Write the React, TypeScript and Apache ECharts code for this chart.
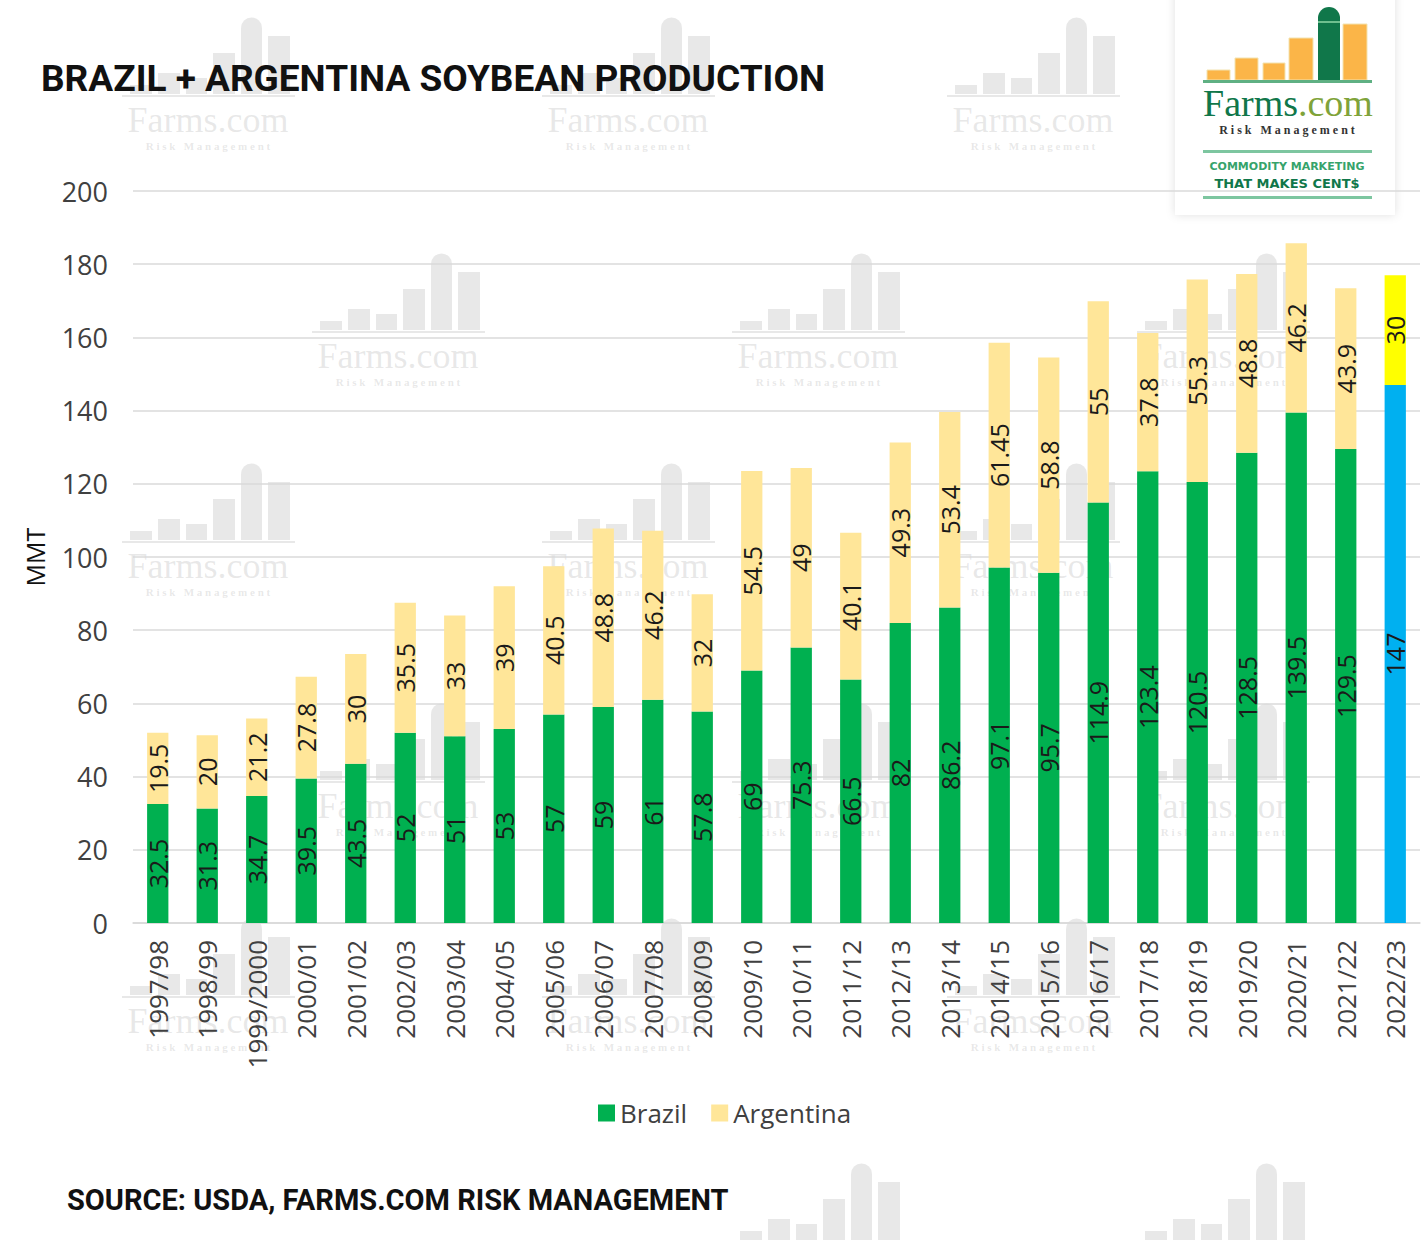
import React, { useEffect, useRef } from "react";
import * as echarts from "echarts";

const seasons = [
  "1997/98", "1998/99", "1999/2000", "2000/01", "2001/02", "2002/03", "2003/04",
  "2004/05", "2005/06", "2006/07", "2007/08", "2008/09", "2009/10", "2010/11",
  "2011/12", "2012/13", "2013/14", "2014/15", "2015/16", "2016/17", "2017/18",
  "2018/19", "2019/20", "2020/21", "2021/22", "2022/23",
];
const brazil = [
  32.5, 31.3, 34.7, 39.5, 43.5, 52, 51, 53, 57, 59, 61, 57.8, 69, 75.3, 66.5, 82,
  86.2, 97.1, 95.7, 114.9, 123.4, 120.5, 128.5, 139.5, 129.5, 147,
];
const argentina = [
  19.5, 20, 21.2, 27.8, 30, 35.5, 33, 39, 40.5, 48.8, 46.2, 32, 54.5, 49, 40.1,
  49.3, 53.4, 61.45, 58.8, 55, 37.8, 55.3, 48.8, 46.2, 43.9, 30,
];
// last season is a forecast, drawn in other colours
const forecastIndex = 25;

const FONT = "'Open Sans', 'Noto Sans', sans-serif";
const WM = "rgba(150,150,150,0.22)";

// faint Farms.com watermark tile
const watermark = (x: number, y: number, withText: boolean) => {
  const children: any[] = [
    { type: "rect", shape: { x: 8, y: 71, width: 22, height: 9 }, style: { fill: WM } },
    { type: "rect", shape: { x: 36, y: 59, width: 22, height: 21 }, style: { fill: WM } },
    { type: "rect", shape: { x: 64, y: 64, width: 21, height: 16 }, style: { fill: WM } },
    { type: "rect", shape: { x: 91, y: 39, width: 22, height: 41 }, style: { fill: WM } },
    { type: "rect", shape: { x: 119, y: 14, width: 21, height: 66 }, style: { fill: WM } },
    {
      type: "sector",
      shape: { cx: 129.5, cy: 14, r0: 0, r: 10.5, startAngle: Math.PI, endAngle: Math.PI * 2 },
      style: { fill: WM },
    },
    { type: "rect", shape: { x: 146, y: 22, width: 22, height: 58 }, style: { fill: WM } },
  ];
  if (withText) {
    children.push(
      { type: "rect", shape: { x: 0, y: 81, width: 173, height: 2 }, style: { fill: WM } },
      {
        type: "text",
        x: 86,
        y: 106,
        style: {
          text: "Farms.com",
          fill: WM,
          font: "36px 'Liberation Serif', serif",
          align: "center",
          verticalAlign: "middle",
        },
      },
      {
        type: "text",
        x: 86,
        y: 132,
        style: {
          text: "R i s k   M a n a g e m e n t",
          fill: WM,
          font: "bold 11px 'Liberation Serif', serif",
          align: "center",
          verticalAlign: "middle",
        },
      }
    );
  }
  return { type: "group", x, y, z: 100, silent: true, children };
};

const wmSpots = [
  [122, 14, 1], [542, 14, 1], [947, 14, 1],
  [312, 250, 1], [732, 250, 1], [1137, 250, 1],
  [122, 460, 1], [542, 460, 1], [947, 460, 1],
  [312, 700, 1], [732, 700, 1], [1137, 700, 1],
  [122, 915, 1], [542, 915, 1], [947, 915, 1],
  [732, 1160, 0], [1137, 1160, 0],
];

const ORANGE = "#FBB548";
const LOGO_GREEN = "#10774A";

const logo = {
  type: "group",
  x: 1175,
  y: 0,
  z: 110,
  silent: true,
  children: [
    {
      type: "rect",
      shape: { x: 0, y: -10, width: 220, height: 225 },
      style: { fill: "#fff", shadowBlur: 10, shadowColor: "rgba(0,0,0,0.12)" },
    },
    { type: "rect", shape: { x: 32, y: 70, width: 23, height: 10 }, style: { fill: ORANGE, stroke: "#F3E3B0", lineWidth: 1 } },
    { type: "rect", shape: { x: 60, y: 58, width: 23, height: 22 }, style: { fill: ORANGE, stroke: "#F3E3B0", lineWidth: 1 } },
    { type: "rect", shape: { x: 88, y: 63, width: 22, height: 17 }, style: { fill: ORANGE, stroke: "#F3E3B0", lineWidth: 1 } },
    { type: "rect", shape: { x: 114, y: 38, width: 24, height: 42 }, style: { fill: ORANGE, stroke: "#F3E3B0", lineWidth: 1 } },
    { type: "rect", shape: { x: 143, y: 17, width: 22, height: 63 }, style: { fill: LOGO_GREEN } },
    {
      type: "sector",
      shape: { cx: 154, cy: 18, r0: 0, r: 11, startAngle: Math.PI, endAngle: Math.PI * 2 },
      style: { fill: LOGO_GREEN },
    },
    { type: "rect", shape: { x: 143, y: 21, width: 22, height: 2 }, style: { fill: "#6FBF8F" } },
    { type: "rect", shape: { x: 168, y: 24, width: 24, height: 56 }, style: { fill: ORANGE, stroke: "#F3E3B0", lineWidth: 1 } },
    { type: "rect", shape: { x: 28, y: 80, width: 169, height: 3 }, style: { fill: "#5FB083" } },
    {
      type: "text",
      x: 28,
      y: 103,
      style: {
        text: "Farms{c|.com}",
        fill: LOGO_GREEN,
        font: "38px 'Liberation Serif', serif",
        verticalAlign: "middle",
        rich: { c: { fill: "#7FA33A", font: "38px 'Liberation Serif', serif" } },
      },
    },
    {
      type: "text",
      x: 112,
      y: 130,
      style: {
        text: "R i s k   M a n a g e m e n t",
        fill: "#333",
        font: "bold 12px 'Liberation Serif', serif",
        align: "center",
        verticalAlign: "middle",
      },
    },
    { type: "rect", shape: { x: 28, y: 150, width: 169, height: 3 }, style: { fill: "#7DC6A0" } },
    {
      type: "text",
      x: 112,
      y: 166,
      style: {
        text: "COMMODITY MARKETING",
        fill: "#36A36B",
        font: "bold 11px 'DejaVu Sans', sans-serif",
        align: "center",
        verticalAlign: "middle",
      },
    },
    {
      type: "text",
      x: 112,
      y: 183,
      style: {
        text: "THAT MAKES CENT$",
        fill: LOGO_GREEN,
        font: "bold 13px 'DejaVu Sans', sans-serif",
        align: "center",
        verticalAlign: "middle",
      },
    },
    { type: "rect", shape: { x: 28, y: 196, width: 169, height: 3 }, style: { fill: "#7DC6A0" } },
  ],
};

const App = () => {
  const chartRef = useRef(null);

  useEffect(() => {
    document.body.style.margin = "0";
    let myChart: echarts.ECharts = null;
    if (chartRef.current !== null) {
      myChart = echarts.init(chartRef.current, null, { renderer: "svg" });
    }

    const label = {
      show: true,
      position: "inside",
      rotate: 90,
      fontSize: 25,
      color: "#1a1a1a",
      fontFamily: FONT,
    };

    const option = {
      animation: false,
      backgroundColor: "#fff",
      title: [
        {
          text: "BRAZIL + ARGENTINA SOYBEAN PRODUCTION",
          left: 36,
          top: 55,
          textStyle: { fontFamily: "Roboto, sans-serif", fontWeight: "bold", fontSize: 37, color: "#111" },
        },
        {
          text: "SOURCE: USDA, FARMS.COM RISK MANAGEMENT",
          left: 62,
          top: 1180,
          textStyle: { fontFamily: "Roboto, sans-serif", fontWeight: "bold", fontSize: 29, color: "#111" },
        },
      ],
      legend: {
        data: ["Brazil", "Argentina"],
        left: 593,
        top: 1095,
        itemWidth: 17,
        itemHeight: 17,
        itemGap: 24,
        icon: "rect",
        textStyle: { fontFamily: FONT, fontSize: 26, color: "#404040" },
      },
      grid: { left: 133, right: 8, top: 191, bottom: 320 },
      xAxis: {
        type: "category",
        data: seasons,
        axisLine: { lineStyle: { color: "#D9D9D9", width: 1.5 } },
        axisTick: { show: false },
        axisLabel: {
          rotate: 90,
          interval: 0,
          margin: 17,
          fontSize: 26,
          color: "#404040",
          fontFamily: FONT,
        },
      },
      yAxis: {
        type: "value",
        min: 0,
        max: 200,
        interval: 20,
        name: "MMT",
        nameLocation: "middle",
        nameGap: 86,
        nameRotate: 90,
        nameTextStyle: { fontSize: 25, color: "#111", fontFamily: FONT },
        axisLabel: { fontSize: 27, color: "#404040", margin: 25, fontFamily: FONT },
        splitLine: { lineStyle: { color: "#DADADA", width: 1.5 } },
      },
      series: [
        {
          name: "Brazil",
          type: "bar",
          stack: "total",
          barWidth: "43%",
          itemStyle: { color: "#00B050" },
          label,
          data: brazil.map((v, i) =>
            i === forecastIndex ? { value: v, itemStyle: { color: "#00B0F0" } } : v
          ),
        },
        {
          name: "Argentina",
          type: "bar",
          stack: "total",
          barWidth: "43%",
          itemStyle: { color: "#FFE699" },
          label,
          data: argentina.map((v, i) =>
            i === forecastIndex ? { value: v, itemStyle: { color: "#FFFF00" } } : v
          ),
        },
      ],
      graphic: [...wmSpots.map(([x, y, t]) => watermark(x, y, t === 1)), logo],
    };

    if (myChart !== null) {
      myChart.setOption(option);
    }

    return () => {
      if (myChart !== null) {
        myChart.dispose();
      }
    };
  }, []);

  return <div ref={chartRef} style={{ width: 1428, height: 1243 }}></div>;
};

export default App;
